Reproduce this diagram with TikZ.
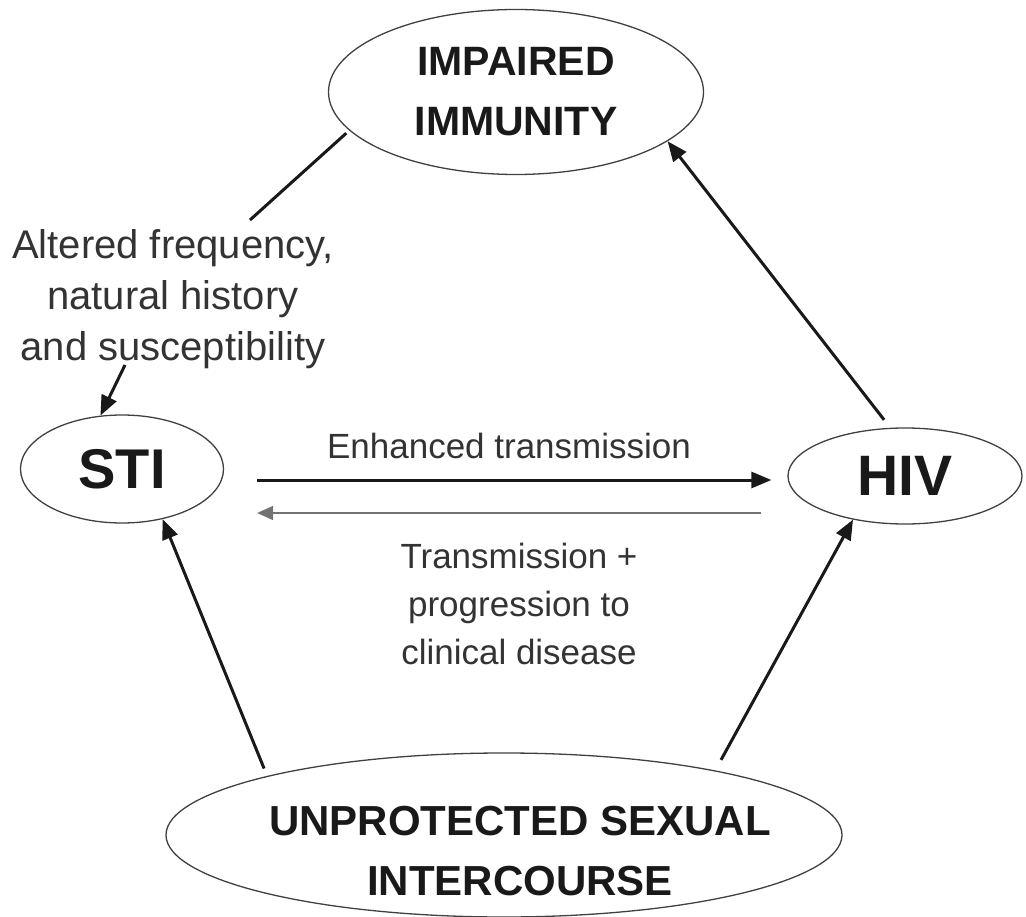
\documentclass[tikz,border=0pt]{standalone}
\usepackage{fontspec}
\setmainfont{Liberation Sans}
\usetikzlibrary{arrows,arrows.meta,%
                shapes,positioning}

\begin{document}
\begin{tikzpicture}[x=1pt,y=-1pt,
  oval/.style={draw=black!75, line width=1.3pt, ellipse, inner sep=0pt, align=center, text=black!90},
  lbl/.style={align=center, text=black!80},
  conn/.style={line width=3pt, draw=black!90},
  arr/.style={conn, -{Triangle[length=20pt,width=16pt]}},
  thinarr/.style={line width=1.8pt, draw=black!55, -{Triangle[length=16pt,width=14pt]}}]
\useasboundingbox (0,0) rectangle (1026,917);
%\draw[help lines, step=50] (0,0) grid (1026,917);
\node[oval, minimum width=375, minimum height=165, font=\fontsize{41}{60}\selectfont\bfseries] (imm) at (516,92) {IMPAIRED\\IMMUNITY};
\node[oval, minimum width=203, minimum height=108, font=\fontsize{56}{60}\selectfont\bfseries] (sti) at (122,469) {STI};
\node[oval, minimum width=234, minimum height=96, font=\fontsize{57}{60}\selectfont\bfseries] (hiv) at (905,476) {HIV};
\node[oval, minimum width=676, minimum height=164,
  label={[oval, draw=none, xshift=16pt, yshift=-16pt, font=\fontsize{42}{60}\selectfont\bfseries]center:{UNPROTECTED SEXUAL\\INTERCOURSE}}] (usi) at (504,835) {};

\node[lbl, anchor=north, font=\fontsize{40}{51}\selectfont] (alt) at (173,226) {Altered frequency,\\natural history\\and susceptibility};
\node[lbl, font=\fontsize{35}{48}\selectfont] (enh) at (509,446) {Enhanced transmission};
\node[lbl, anchor=north, font=\fontsize{35}{48}\selectfont] (prog) at (519,540) {Transmission +\\progression to\\clinical disease};

\coordinate (altTop) at (250,220);
\coordinate (altBot) at (125,365);

\draw[conn, shorten <=4pt] (imm.193) -- (altTop);
\draw[arr] (altBot) -- (sti.112);
\draw[arr, shorten <=10pt] (hiv.107) -- (imm.342);
\draw[arr] ([shift={(33,11)}]sti.east) -- ([shift={(-16,4)}]hiv.west);
\draw[thinarr] ([shift={(-26,37)}]hiv.west) -- ([shift={(33,44)}]sti.east);
\draw[arr, shorten <=8pt] (usi.166) -- (sti.309);
\draw[arr, shorten <=12pt] (usi.17) -- (hiv.220);

\end{tikzpicture}
\end{document}
